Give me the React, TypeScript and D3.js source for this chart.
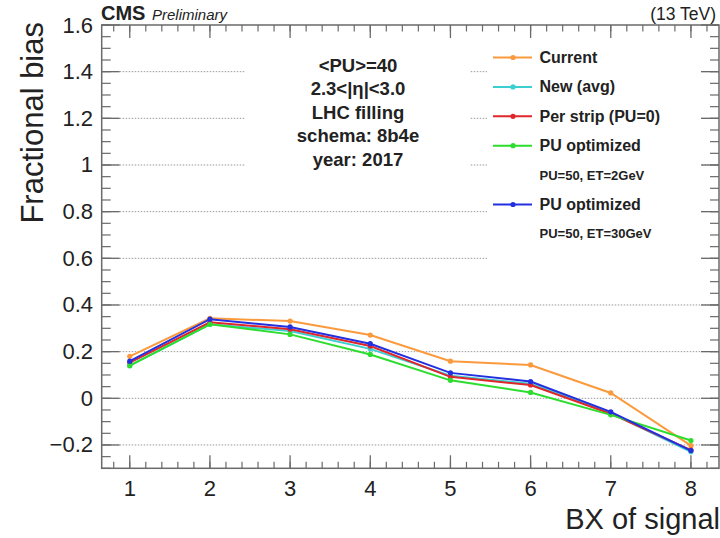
import React from 'react';
import * as d3 from 'd3';

const bx = [1, 2, 3, 4, 5, 6, 7, 8];
const current = [0.18, 0.343, 0.331, 0.271, 0.159, 0.143, 0.023, -0.203];
const newAvg = [0.14, 0.317, 0.288, 0.212, 0.097, 0.062, -0.063, -0.229];
const perStrip = [0.153, 0.326, 0.296, 0.224, 0.092, 0.057, -0.066, -0.222];
const puOpt2 = [0.14, 0.317, 0.274, 0.188, 0.077, 0.025, -0.071, -0.181];
const puOpt30 = [0.159, 0.339, 0.306, 0.234, 0.109, 0.072, -0.058, -0.224];

const seriesValues = [current, newAvg, perStrip, puOpt2, puOpt30];
const seriesNames = ['Current', 'New (avg)', 'Per strip (PU=0)', 'PU optimized', 'PU optimized'];
const seriesSubs = ['', '', '', 'PU=50, ET=2GeV', 'PU=50, ET=30GeV'];
const seriesColors = ['#fb9a3c', '#3ccfd2', '#e0262a', '#2ddd2d', '#2230e0'];

const yTickValues = [-0.2, 0, 0.2, 0.4, 0.6, 0.8, 1, 1.2, 1.4, 1.6];
const yTickLabels = ['\u22120.2', '0', '0.2', '0.4', '0.6', '0.8', '1', '1.2', '1.4', '1.6'];
const xTickValues = [1, 2, 3, 4, 5, 6, 7, 8];
const infoLines = ['<PU>=40', '2.3<|\u03b7|<3.0', 'LHC filling', 'schema: 8b4e', 'year: 2017'];

const W = 720, H = 538;
const L = 101.7, R = 719, T = 25, B = 468.3;
const FONT = '"Liberation Sans", Arial, Helvetica, sans-serif';
const AX = '#6a6a6a';

export default function App() {
  const x = d3.scaleLinear().domain([0.65, 8.35]).range([L, R]);
  const y = d3.scaleLinear().domain([-0.3, 1.6]).range([B, T]);

  const xMinor = d3.range(0.6, 8.4001, 0.2).filter(v => x(v) >= L - 0.1 && x(v) <= R + 0.1);
  const yMinor = d3.range(-0.3, 1.6001, 0.05);

  const line = d3.line<[number, number]>().x(d => x(d[0])).y(d => y(d[1]));

  const rowY = (r: number) => 57.5 + 29.4 * r;
  const seriesRow = [0, 1, 2, 3, 5];

  return (
    <svg width={W} height={H} style={{ position: 'absolute', left: 0, top: 0, background: '#fff' }} fontFamily={FONT}>
      <rect x={0} y={0} width={W} height={H} fill="#fff" />
      {/* gridlines */}
      {yTickValues.filter(v => v < 1.6).map((v, i) => (
        <line key={'g' + i} x1={L} x2={R} y1={y(v)} y2={y(v)} stroke="#9a9a9a" strokeWidth={1} strokeDasharray="1.5,1.5" />
      ))}
      {/* info box & legend background */}
      <rect x={245} y={40} width={225} height={150} fill="#fff" />
      <rect x={487} y={40} width={215} height={228} fill="#fff" />

      {/* minor ticks */}
      {xMinor.map((v, i) => (
        <g key={'xm' + i}>
          <line x1={x(v)} x2={x(v)} y1={B} y2={B - 6.5} stroke={AX} strokeWidth={1.2} />
          <line x1={x(v)} x2={x(v)} y1={T} y2={T + 6.5} stroke={AX} strokeWidth={1.2} />
        </g>
      ))}
      {yMinor.map((v, i) => (
        <g key={'ym' + i}>
          <line x1={L} x2={L + 9} y1={y(v)} y2={y(v)} stroke={AX} strokeWidth={1.2} />
          <line x1={R} x2={R - 9} y1={y(v)} y2={y(v)} stroke={AX} strokeWidth={1.2} />
        </g>
      ))}
      {/* major ticks */}
      {xTickValues.map((v, i) => (
        <g key={'xM' + i}>
          <line x1={x(v)} x2={x(v)} y1={B} y2={B - 13} stroke={AX} strokeWidth={1.3} />
          <line x1={x(v)} x2={x(v)} y1={T} y2={T + 13} stroke={AX} strokeWidth={1.3} />
          <text x={x(v)} y={488} textAnchor="middle" dominantBaseline="central" fontSize={22} fill="#222">{v}</text>
        </g>
      ))}
      {yTickValues.map((v, i) => (
        <g key={'yM' + i}>
          <line x1={L} x2={L + 18} y1={y(v)} y2={y(v)} stroke={AX} strokeWidth={1.3} />
          <line x1={R} x2={R - 18} y1={y(v)} y2={y(v)} stroke={AX} strokeWidth={1.3} />
          <text x={93} y={y(v)} textAnchor="end" dominantBaseline="central" fontSize={22} fill="#222">{yTickLabels[i]}</text>
        </g>
      ))}
      {/* frame */}
      <rect x={L} y={T} width={R - L} height={B - T} fill="none" stroke={AX} strokeWidth={1.5} />

      {/* series */}
      {seriesValues.map((vals, s) => {
        const pts: [number, number][] = bx.map((b, i) => [b, vals[i]]);
        return (
          <g key={'s' + s}>
            <path d={line(pts) || ''} fill="none" stroke={seriesColors[s]} strokeWidth={2} />
            {pts.map((p, i) => (
              <circle key={i} cx={x(p[0])} cy={y(p[1])} r={2.6} fill={seriesColors[s]} />
            ))}
          </g>
        );
      })}

      {/* info text */}
      {infoLines.map((t, i) => (
        <text key={'info' + i} x={358} y={65 + 23.5 * i} textAnchor="middle" dominantBaseline="central" fontSize={18.5} fontWeight="bold" fill="#222">{t}</text>
      ))}

      {/* legend */}
      {seriesNames.map((n, s) => {
        const ry = rowY(seriesRow[s]);
        return (
          <g key={'lg' + s}>
            <line x1={493} x2={532} y1={ry} y2={ry} stroke={seriesColors[s]} strokeWidth={2} />
            <circle cx={513} cy={ry} r={2.6} fill={seriesColors[s]} />
            <text x={539.5} y={ry} dominantBaseline="central" fontSize={16} fontWeight="bold" fill="#222">{n}</text>
            {seriesSubs[s] && (
              <text x={539.5} y={rowY(seriesRow[s] + 1)} dominantBaseline="central" fontSize={13} fontWeight="bold" fill="#222">{seriesSubs[s]}</text>
            )}
          </g>
        );
      })}

      {/* header */}
      <text x={101} y={20} fontSize={20} fontWeight="bold" fill="#222">CMS</text>
      <text x={152} y={20} fontSize={15} fontStyle="italic" fill="#222">Preliminary</text>
      <text x={716} y={20} textAnchor="end" fontSize={17.5} fill="#222">(13 TeV)</text>

      {/* axis titles */}
      <text x={720} y={529} textAnchor="end" fontSize={29} fill="#222">BX of signal</text>
      <text transform={`translate(43,22) rotate(-90)`} textAnchor="end" fontSize={31} fill="#222">Fractional bias</text>
    </svg>
  );
}
